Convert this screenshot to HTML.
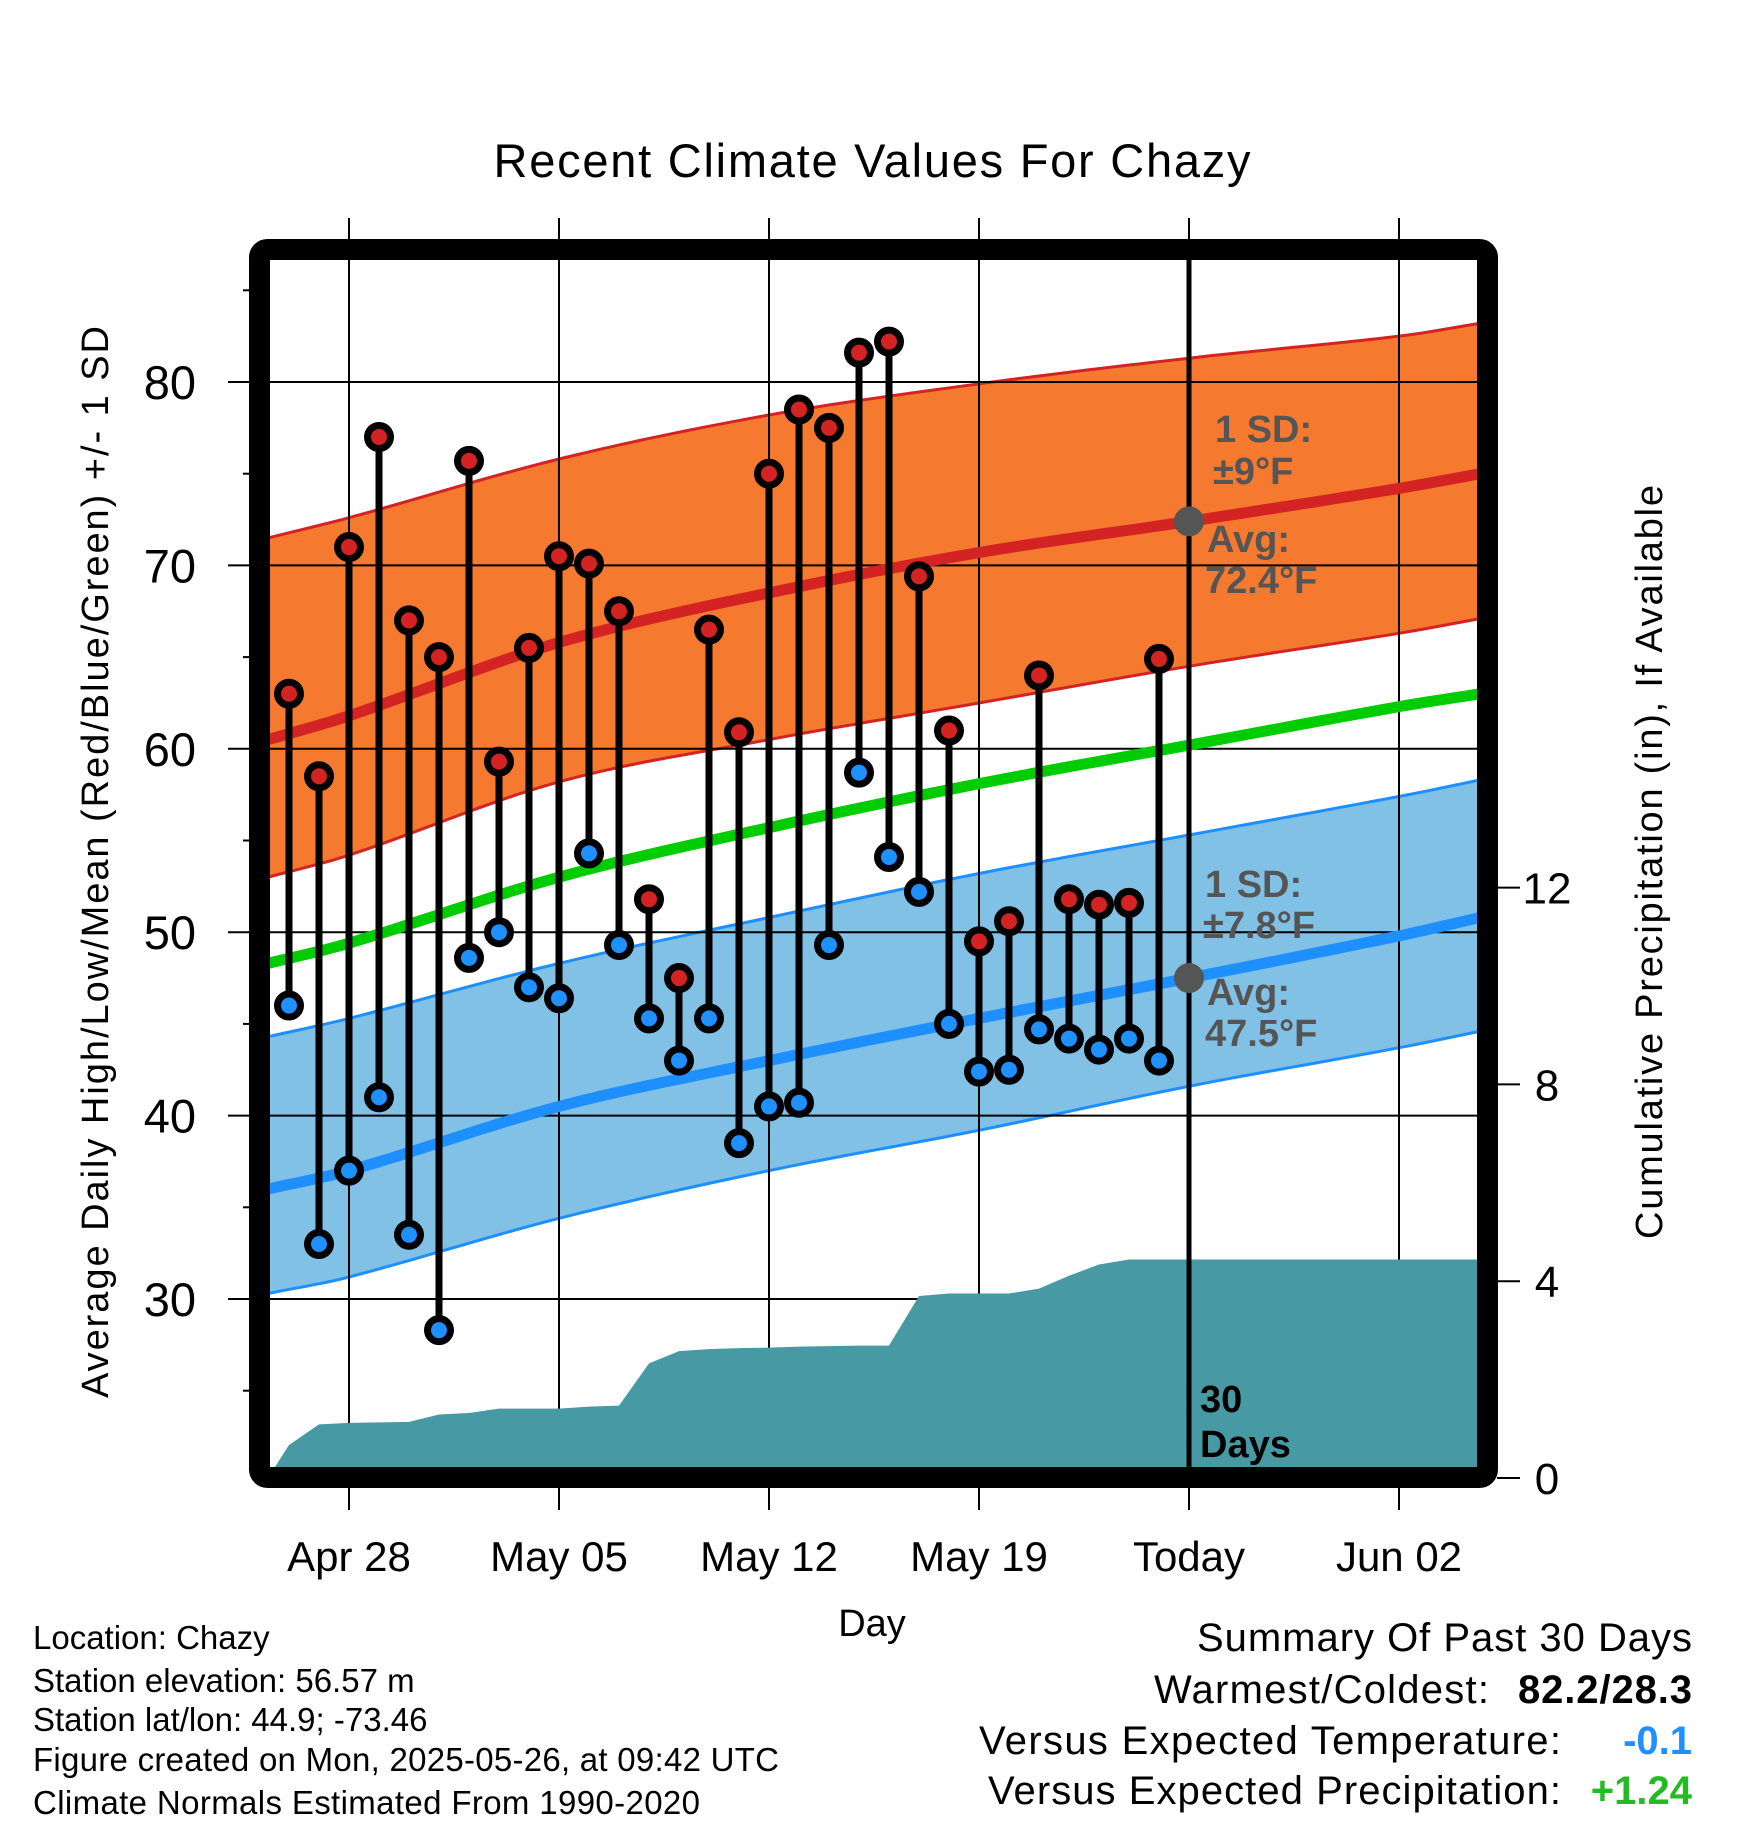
<!DOCTYPE html>
<html><head><meta charset="utf-8"><style>
html,body{margin:0;padding:0;background:#fff;}
svg{display:block;font-family:"Liberation Sans",Arial,sans-serif;}
</style></head><body>
<svg id="chart" width="1748" height="1828" viewBox="0 0 1748 1828" xmlns="http://www.w3.org/2000/svg">
<defs><clipPath id="plotclip"><rect x="270" y="260" width="1208" height="1208"/></clipPath></defs>
<text x="872" y="177" font-size="47" text-anchor="middle" textLength="757">Recent Climate Values For Chazy</text>
<g id="bands" clip-path="url(#plotclip)"></g>
<g id="grid"></g>
<g id="normals" clip-path="url(#plotclip)"></g>
<g id="precip" clip-path="url(#plotclip)"></g>
<line x1="1189" y1="260" x2="1189" y2="1468" stroke="#000" stroke-width="5"/>
<g id="obs"></g>
<g fill="#555" font-weight="bold" font-size="38">
<circle id="dotHi" r="15" fill="#555"/>
<circle id="dotLo" r="15" fill="#555"/>
<text x="1215" y="442">1 SD:</text>
<text x="1213" y="484">±9°F</text>
<text x="1207" y="552">Avg:</text>
<text x="1205" y="593">72.4°F</text>
<text x="1205" y="897">1 SD:</text>
<text x="1203" y="938">±7.8°F</text>
<text x="1207" y="1005">Avg:</text>
<text x="1205" y="1046">47.5°F</text>
</g>
<g font-weight="bold" font-size="38" fill="#000">
<text x="1200" y="1412">30</text><text x="1200" y="1457">Days</text></g>
<rect x="259.5" y="249.5" width="1228" height="1228" rx="8" fill="none" stroke="#000" stroke-width="21"/>
<g id="axes"></g>
<text x="872" y="1636" font-size="38" text-anchor="middle">Day</text>
<text transform="translate(108,862) rotate(-90)" font-size="38" text-anchor="middle" textLength="1072">Average Daily High/Low/Mean (Red/Blue/Green) +/- 1 SD</text>
<text transform="translate(1662,862) rotate(-90)" font-size="38" text-anchor="middle" textLength="754">Cumulative Precipitation (in), If Available</text>
<g font-size="33">
<text x="33" y="1649">Location: Chazy</text>
<text x="33" y="1692">Station elevation: 56.57 m</text>
<text x="33" y="1731">Station lat/lon: 44.9; -73.46</text>
<text x="33" y="1771" textLength="746">Figure created on Mon, 2025-05-26, at 09:42 UTC</text>
<text x="33" y="1814" textLength="667">Climate Normals Estimated From 1990-2020</text>
</g>
<g font-size="40">
<text x="1692" y="1651" text-anchor="end" textLength="495">Summary Of Past 30 Days</text>
<text x="1489" y="1703" text-anchor="end" textLength="335">Warmest/Coldest:</text>
<text x="1692" y="1703" text-anchor="end" font-weight="bold" textLength="174">82.2/28.3</text>
<text x="1561" y="1754" text-anchor="end" textLength="582">Versus Expected Temperature:</text>
<text x="1692" y="1754" text-anchor="end" font-weight="bold" fill="#1e90ff">-0.1</text>
<text x="1561" y="1804" text-anchor="end" textLength="573">Versus Expected Precipitation:</text>
<text x="1692" y="1804" text-anchor="end" font-weight="bold" fill="#22bb22">+1.24</text>
</g>
</svg>
<script>
// ---- data ----
const obsDays = [-2,-1,0,1,2,3,4,5,6,7,8,9,10,11,12,13,14,15,16,17,18,19,20,21,22,23,24,25,26,27];
const highs = [63,58.5,71,77,67,65,75.7,59.3,65.5,70.5,70.1,67.5,51.8,47.5,66.5,60.9,75,78.5,77.5,81.6,82.2,69.4,61,49.5,50.6,64,51.8,51.5,51.6,64.9];
const lows = [46,33,37,41,33.5,28.3,48.6,50,47,46.4,54.3,49.3,45.3,43,45.3,38.5,40.5,40.7,49.3,58.7,54.1,52.2,45,42.4,42.5,44.7,44.2,43.6,44.2,43];
const precip = [0.67,1.09,1.12,1.13,1.14,1.29,1.32,1.41,1.41,1.41,1.45,1.47,2.33,2.58,2.62,2.64,2.65,2.67,2.68,2.69,2.69,3.7,3.75,3.75,3.75,3.85,4.11,4.34,4.44,4.44];
const precipDays = [-1,0,1,2,3,4,5,6,7,8,9,10,11,12,13,14,15,16,17,18,19,20,21,22,23,24,25,26,27,28];
const normDays = [-2.7,0,7,14,21,28,35,37.7];
const avgHigh = [60.5,61.8,65.8,68.5,70.7,72.4,74.2,75];
const highUpper = [71.5,72.6,75.8,78.2,79.9,81.3,82.5,83.2];
const highLower = [53,54.2,58.2,60.5,62.5,64.5,66.3,67.1];
const avgMean = [48.3,49.4,53,55.7,58.1,60.2,62.3,63];
const avgLow = [36,37,40.5,43,45.3,47.5,49.8,50.8];
const lowUpper = [44.3,45.3,48.3,50.8,53.2,55.3,57.4,58.3];
const lowLower = [30.3,31.2,34.4,37,39.2,41.6,43.7,44.6];
const yTicks = [30,40,50,60,70,80];
const pTicks = [0,4,8,12];
const xTickDays = [0,7,14,21,28,35];
const xTickLabels = ["Apr 28","May 05","May 12","May 19","Today","Jun 02"];
// ---- scales ----
const X = d => 349 + 30*d;
const Y = v => 382 + (80 - v)*18.34;
const P = p => 1478 - p*49.2;
const NS = "http://www.w3.org/2000/svg";
function mk(parent, tag, attrs){const e=document.createElementNS(NS,tag);for(const k in attrs)e.setAttribute(k,attrs[k]);document.getElementById(parent).appendChild(e);return e;}
// smooth (Catmull-Rom) sampling between knots
function smooth(arr){
  const out=[];const n=normDays.length;
  for(let i=0;i<n-1;i++){
    const p0=arr[Math.max(0,i-1)],p1=arr[i],p2=arr[i+1],p3=arr[Math.min(n-1,i+2)];
    const d0=normDays[Math.max(0,i-1)],d1=normDays[i],d2=normDays[i+1],d3=normDays[Math.min(n-1,i+2)];
    const m1=(p2-p0)/(d2-d0||1)*(d2-d1), m2=(p3-p1)/(d3-d1||1)*(d2-d1);
    for(let s=0;s<10;s++){const t=s/10,t2=t*t,t3=t2*t;
      const v=(2*t3-3*t2+1)*p1+(t3-2*t2+t)*m1+(-2*t3+3*t2)*p2+(t3-t2)*m2;
      out.push(X(d1+t*(d2-d1)).toFixed(1)+","+Y(v).toFixed(1));}
  }
  out.push(X(normDays[n-1]).toFixed(1)+","+Y(arr[n-1]).toFixed(1));
  return out;
}
function band(up,lo,fill,edge,name){
  const pts=smooth(up).concat(smooth(lo).reverse());
  const e=mk('bands','polygon',{points:pts.join(' '),fill:fill});
  
  
  [up,lo].forEach(a=>{const l=mk('bands','polyline',{points:smooth(a).join(' '),fill:'none',stroke:edge,'stroke-width':3});
    
    });
}
band(highUpper,highLower,'#f5792e','#d42323','high-sd-band');
band(lowUpper,lowLower,'#82c1e6','#1e8fff','low-sd-band');
// grid
yTicks.forEach(v=>{const l=mk('grid','line',{x1:228,x2:1478,y1:Y(v),y2:Y(v),stroke:'#000','stroke-width':2});
  
  });
xTickDays.forEach(d=>{const l=mk('grid','line',{x1:X(d),x2:X(d),y1:218,y2:1510,stroke:'#000','stroke-width':2});
  
  });
// normals
[[avgHigh,'#d42323','avg-high-line'],[avgMean,'#00cc00','avg-mean-line'],[avgLow,'#1e8fff','avg-low-line']].forEach(([a,c,n])=>{
  const l=mk('normals','polyline',{points:smooth(a).join(' '),fill:'none',stroke:c,'stroke-width':11});
  
  });
// precip
let pp=[X(-2.7)+","+P(0)];
pp.push(X(-2)+","+P(precip[0]));
precipDays.forEach((d,i)=>{ if(i>0) pp.push(X(d-1)+","+P(precip[i])); });
pp.push(X(38)+","+P(precip[precip.length-1]));
pp.push(X(38)+","+P(0));
const pa=mk('precip','polygon',{points:pp.join(' '),fill:'#4799a3'});


// observations
obsDays.forEach((d,i)=>{
  const s=mk('obs','line',{x1:X(d),x2:X(d),y1:Y(highs[i]),y2:Y(lows[i]),stroke:'#000','stroke-width':7});
  
  
});
obsDays.forEach((d,i)=>{
  const h=mk('obs','circle',{cx:X(d),cy:Y(highs[i]),r:11.5,fill:'#d42323',stroke:'#000','stroke-width':7});
  
  
  const l=mk('obs','circle',{cx:X(d),cy:Y(lows[i]),r:11.5,fill:'#1e90ff',stroke:'#000','stroke-width':7});
  
  
});
document.getElementById('dotHi').setAttribute('cx',X(28));document.getElementById('dotHi').setAttribute('cy',Y(avgHigh[5]));
document.getElementById('dotLo').setAttribute('cx',X(28));document.getElementById('dotLo').setAttribute('cy',Y(avgLow[5]));
// axes
yTicks.forEach(v=>{const t=mk('axes','text',{x:196,y:Y(v)+17,'font-size':47,'text-anchor':'end'});t.textContent=v;
  
  });
for(let v=25;v<=85;v+=10){const m=mk('axes','line',{x1:243,x2:250,y1:Y(v),y2:Y(v),stroke:'#000','stroke-width':2});
  
  }
pTicks.forEach(p=>{const l=mk('axes','line',{x1:1497,x2:1520,y1:P(p),y2:P(p),stroke:'#000','stroke-width':2});
  
  
  const t=mk('axes','text',{x:1547,y:P(p)+16,'font-size':44,'text-anchor':'middle'});t.textContent=p;
  
  });
xTickDays.forEach((d,i)=>{const t=mk('axes','text',{x:X(d),y:1571,'font-size':42,'text-anchor':'middle'});t.textContent=xTickLabels[i];
  
  });
</script>
</body></html>
